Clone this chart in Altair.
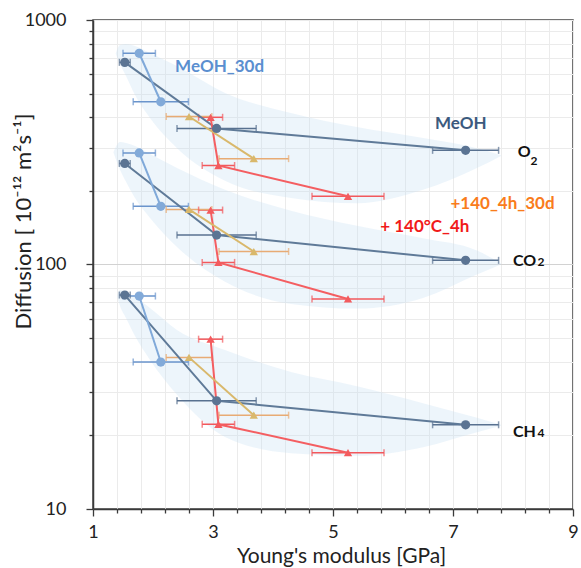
import altair as alt
import pandas as pd

# ---------------- data ----------------
GASES = ["O2", "CO2", "CH4"]

MEOH_X = [1.53, 3.06, 7.21]
MEOH_XERR = [0.09, 0.66, 0.55]
MEOH_O2 = [671, 360, 293]
MEOH_CO2 = [259, 132, 104]
MEOH_CH4 = [75, 27.7, 22.1]

MEOH30_X = [1.77, 2.13]
MEOH30_XERR = [0.27, 0.46]
MEOH30_O2 = [731, 463]
MEOH30_CO2 = [286, 173]
MEOH30_CH4 = [74.3, 39.9]

HEAT_X = [2.96, 3.09, 5.25]
HEAT_XERR = [0.20, 0.27, 0.60]
HEAT_O2 = [400, 254, 190]
HEAT_CO2 = [167, 102, 72.3]
HEAT_CH4 = [49.5, 22.2, 17.0]

HEAT30_X = [2.60, 3.68]
HEAT30_XERR = [0.38, 0.58]
HEAT30_O2 = [403, 271]
HEAT30_CO2 = [168, 113]
HEAT30_CH4 = [41.7, 24.2]

# shaded guide bands (x, upper, lower)
BAND_O2_X = [1.38, 1.45, 1.55, 1.7, 1.95, 2.4, 3.2, 4.3, 5.4, 6.5, 7.4, 7.8]
BAND_O2_HI = [733, 791, 798, 783, 733, 648, 503, 417, 365, 329, 299, 280]
BAND_O2_LO = [726, 661, 590, 493, 397, 299, 220, 187, 178, 202, 248, 278]
BAND_CO2_X = [1.34, 1.45, 1.55, 1.7, 1.95, 2.4, 3.2, 4.3, 5.4, 6.5, 7.4, 7.8]
BAND_CO2_HI = [288, 317, 314, 305, 283, 248, 202, 166, 144, 128, 114, 101]
BAND_CO2_LO = [288, 244, 218, 187, 155, 118, 85, 69, 66, 73, 91, 100]
BAND_CH4_X = [1.4, 1.45, 1.55, 1.7, 1.95, 2.4, 3.2, 4.3, 5.4, 6.5, 7.4, 7.8]
BAND_CH4_HI = [74.3, 78.6, 77.2, 73.6, 66.4, 54.0, 44.7, 36.3, 31.8, 27.1, 23.6, 22.1]
BAND_CH4_LO = [74.3, 67.7, 60.4, 51.0, 40.7, 29.3, 19.7, 16.9, 16.5, 17.9, 20.6, 21.9]

# annotations
CENTER_LABELS = ["MeOH_30d", "MeOH", "+140_4h_30d", "+ 140°C_4h"]
CENTER_X = [3.11, 7.13, 7.825, 6.53]
CENTER_Y = [612, 358, 168.7, 135.2]
GAS_MAIN = ["O", "CO", "CH"]
GAS_SUB = ["2", "2", "4"]
GAS_X = [8.08, 8.0, 8.0]
GAS_SUB_X = [8.29, 8.41, 8.41]
GAS_Y = [274.4, 98.6, 19.76]
GAS_SUB_Y = [255, 98.6, 19.76]

X_TICKS = [round(1 + 0.4 * i, 1) for i in range(21)]
Y_TICKS = [10, 20, 30, 40, 50, 60, 70, 80, 90, 100, 200, 300, 400, 500, 600, 700, 800, 900, 1000]

# ---------------- styles ----------------
LINE_COL = {"MeOH": "#5f7a98", "MeOH_30d": "#80a9d9", "heat": "#f45e61", "heat30": "#d9b86b"}
PT_COL = {"MeOH": "#5b7493", "MeOH_30d": "#82aad9", "heat": "#f35b5e", "heat30": "#d9b86b"}
ERR_COL = {"MeOH": "#587190", "MeOH_30d": "#6a94cc", "heat": "#f2585c", "heat30": "#e8ab74"}
LABEL_COL = ["#5b8fd0", "#3c5a7e", "#f97c1c", "#f11a1a"]
FONT = "Lato"

series = [
    ("MeOH", MEOH_X, MEOH_XERR, [MEOH_O2, MEOH_CO2, MEOH_CH4], "circle"),
    ("MeOH_30d", MEOH30_X, MEOH30_XERR, [MEOH30_O2, MEOH30_CO2, MEOH30_CH4], "circle"),
    ("heat", HEAT_X, HEAT_XERR, [HEAT_O2, HEAT_CO2, HEAT_CH4], "triangle"),
    ("heat30", HEAT30_X, HEAT30_XERR, [HEAT30_O2, HEAT30_CO2, HEAT30_CH4], "triangle"),
]

rows, caps = [], []
for name, xs, errs, ys_by_gas, shape in series:
    for gas, ys in zip(GASES, ys_by_gas):
        for i, (x, e, y) in enumerate(zip(xs, errs, ys)):
            rows.append(dict(key=name + gas, series=name, gas=gas, idx=i, x=x, y=y,
                             lo=x - e, hi=x + e, lc=LINE_COL[name], pc=PT_COL[name],
                             ec=ERR_COL[name], shape=shape))
            caps.append(dict(x=x - e, y=y, ec=ERR_COL[name]))
            caps.append(dict(x=x + e, y=y, ec=ERR_COL[name]))
df = pd.DataFrame(rows)
cap_df = pd.DataFrame(caps)

band_rows = []
for gas, bx, bh, bl in [("O2", BAND_O2_X, BAND_O2_HI, BAND_O2_LO),
                        ("CO2", BAND_CO2_X, BAND_CO2_HI, BAND_CO2_LO),
                        ("CH4", BAND_CH4_X, BAND_CH4_HI, BAND_CH4_LO)]:
    for x, h, l in zip(bx, bh, bl):
        band_rows.append(dict(gas=gas, x=x, y=h, y2=l))
band_df = pd.DataFrame(band_rows)

center_df = pd.DataFrame(dict(label=CENTER_LABELS, x=CENTER_X, y=CENTER_Y, c=LABEL_COL))
gas_df = pd.DataFrame(dict(label=GAS_MAIN, x=GAS_X, y=GAS_Y))
sub_df = pd.DataFrame(dict(label=GAS_SUB, x=GAS_SUB_X, y=GAS_SUB_Y))

# ---------------- scales / axes ----------------
xs_scale = alt.Scale(domain=[1, 9], nice=False, zero=False)
ys_scale = alt.Scale(type="log", domain=[10, 1000], nice=False)

x_axis = alt.Axis(
    values=X_TICKS, title="Young's modulus [GPa]",
    labelExpr="(abs(datum.value - round(datum.value)) < 0.01 && round(datum.value) % 2 == 1) ? format(datum.value, 'd') : ''",
    grid=True, gridColor="#ebebeb", gridWidth=1,
    tickSize={"condition": {"test": "abs(datum.value - round(datum.value)) < 0.01 && round(datum.value) % 2 == 1", "value": 7}, "value": 4},
    labelFont=FONT, labelFontSize=18, labelColor="#222222", labelPadding=7,
    labelFlush=False, labelOverlap=False,
    titleFont=FONT, titleFontSize=21, titleFontWeight="normal", titleColor="#222222",
    titleX=248, titleY=53, titleBaseline="alphabetic", titleAlign="center",
)
y_axis = alt.Axis(
    values=Y_TICKS, title="Diffusion [ 10⁻¹² m²s⁻¹]",
    labelExpr="(datum.value == 10 || datum.value == 100 || datum.value == 1000) ? format(datum.value, 'd') : ''",
    grid=True,
    gridColor={"condition": {"test": "datum.value == 100", "value": "#d2d2d2"}, "value": "#ebebeb"},
    tickSize={"condition": {"test": "datum.value == 10 || datum.value == 100 || datum.value == 1000", "value": 7}, "value": 4},
    labelFont=FONT, labelFontSize=18, labelColor="#222222", labelPadding=20,
    labelFlush=False, labelOverlap=False,
    titleFont=FONT, titleFontSize=22, titleFontWeight="normal", titleColor="#222222",
    titleAngle=270, titleX=-80, titleY=201, titleBaseline="top", titleAlign="center",
)


def X(field):
    return alt.X(field, type="quantitative", scale=xs_scale, axis=x_axis)


def Y(field):
    return alt.Y(field, type="quantitative", scale=ys_scale, axis=y_axis)


bands = alt.Chart(band_df).mark_area(interpolate="monotone", color="#c8e1f2", opacity=0.33).encode(
    x=X("x"), y=Y("y"), y2="y2", detail="gas:N")

err = alt.Chart(df).mark_rule(strokeWidth=1.5).encode(
    x=X("lo"), x2="hi", y=Y("y"), color=alt.Color("ec:N", scale=None))

cap = alt.Chart(cap_df).mark_tick(orient="vertical", size=7, thickness=1.5).encode(
    x=X("x"), y=Y("y"), color=alt.Color("ec:N", scale=None))

lines = alt.Chart(df).mark_line(strokeWidth=2).encode(
    x=X("x"), y=Y("y"), detail="key:N", order="idx:Q", color=alt.Color("lc:N", scale=None))

circles = alt.Chart(df).transform_filter("datum.shape == 'circle'").mark_point(
    filled=True, opacity=1, size=85, shape="circle").encode(
    x=X("x"), y=Y("y"), color=alt.Color("pc:N", scale=None))

tris = alt.Chart(df).transform_filter("datum.shape == 'triangle'").mark_point(
    filled=True, opacity=1, size=70, shape="triangle-up").encode(
    x=X("x"), y=Y("y"), color=alt.Color("pc:N", scale=None))

center_txt = alt.Chart(center_df).mark_text(
    font=FONT, fontSize=17, fontWeight="bold", align="center", baseline="alphabetic").encode(
    x=X("x"), y=Y("y"), text="label:N", color=alt.Color("c:N", scale=None))

gas_txt = alt.Chart(gas_df).mark_text(
    font=FONT, fontSize=16, fontWeight="bold", align="left", baseline="alphabetic", color="#111111").encode(
    x=X("x"), y=Y("y"), text="label:N")

sub_txt = alt.Chart(sub_df).mark_text(
    font=FONT, fontSize=12, fontWeight="bold", align="left", baseline="alphabetic", color="#111111").encode(
    x=X("x"), y=Y("y"), text="label:N")

chart = alt.layer(bands, err, cap, lines, circles, tris, center_txt, gas_txt, sub_txt).properties(
    width=480, height=489,
    autosize=alt.AutoSizeParams(type="none"),
    padding={"left": 93, "top": 20, "right": 8, "bottom": 59},
    background="white",
).configure_view(
    stroke="#444444", strokeWidth=1.5
).configure_axis(
    domainColor="#3a3a3a", domainWidth=1.5, tickColor="#3a3a3a", tickWidth=1.3
)

chart.save("out.html", embed_options={"renderer": "svg", "actions": False})
